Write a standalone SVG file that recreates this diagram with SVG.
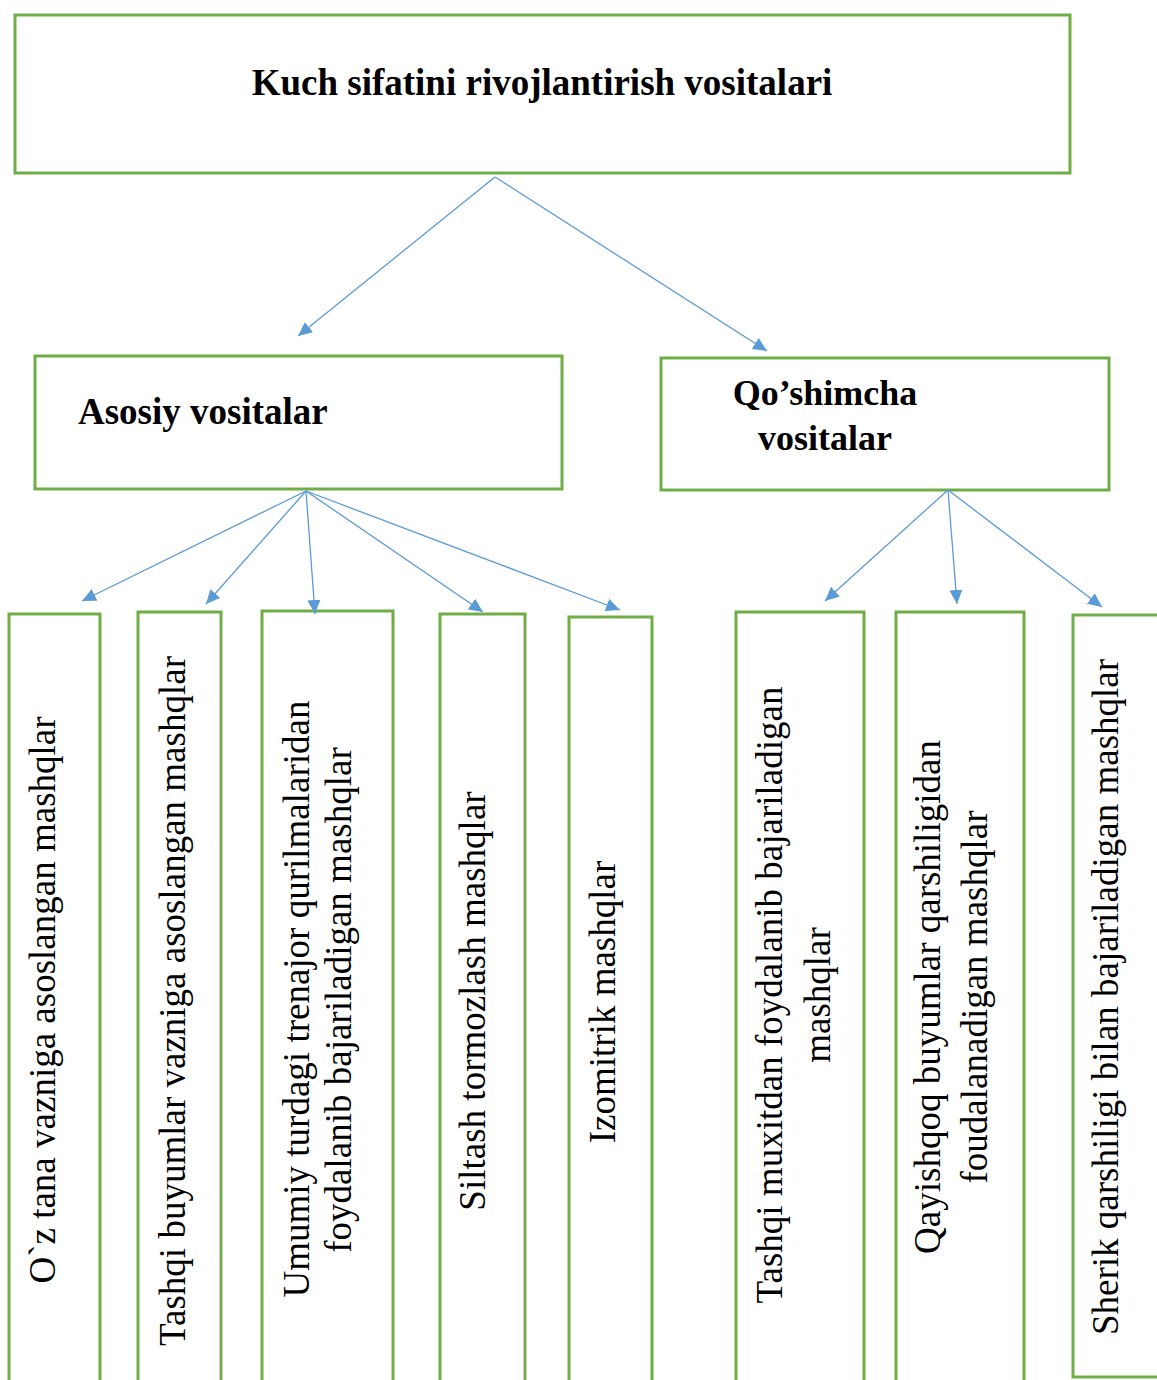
<svg xmlns="http://www.w3.org/2000/svg" width="1157" height="1380" viewBox="0 0 1157 1380">
<style>
  .box{fill:#FFFFFF;stroke:#70AD47;stroke-width:3}
  .hd{font-family:"Liberation Serif","Times New Roman",serif;font-weight:bold;fill:#000}
  .vt{font-family:"Liberation Serif","Times New Roman",serif;font-size:37px;fill:#000;text-anchor:middle}
  .conn line{stroke:#5B9BD5;stroke-width:1.3;fill:none}
</style>
<defs>
  <marker id="ah" markerUnits="userSpaceOnUse" markerWidth="16" markerHeight="14" refX="14" refY="6.5" orient="auto">
    <path d="M0,0 L14,6.5 L0,13 Z" fill="#5B9BD5"/>
  </marker>
</defs>
<rect width="1157" height="1380" fill="#FFFFFF"/>

<g id="n-root">
  <rect class="box" x="15" y="15" width="1055" height="158"/>
  <text class="hd" x="542" y="95" font-size="37" text-anchor="middle">Kuch sifatini rivojlantirish vositalari</text>
</g>
<g id="n-asosiy">
  <rect class="box" x="35" y="356" width="527" height="133"/>
  <text class="hd" x="78" y="424" font-size="37">Asosiy vositalar</text>
</g>
<g id="n-qoshimcha">
  <rect class="box" x="661" y="358" width="448" height="132"/>
  <text class="hd" x="825" y="405" font-size="36" text-anchor="middle">Qo’shimcha</text>
  <text class="hd" x="825" y="450" font-size="36" text-anchor="middle">vositalar</text>
</g>

<g id="n-b1">
  <rect class="box" x="9" y="614" width="91" height="790"/>
  <text class="vt" transform="translate(55,1000) rotate(-90)">O`z tana vazniga asoslangan mashqlar</text>
</g>
<g id="n-b2">
  <rect class="box" x="138" y="612" width="83" height="790"/>
  <text class="vt" transform="translate(185,1001) rotate(-90)">Tashqi buyumlar vazniga asoslangan mashqlar</text>
</g>
<g id="n-b3">
  <rect class="box" x="262" y="611" width="131" height="790"/>
  <text class="vt" transform="translate(309,999) rotate(-90)">Umumiy turdagi trenajor qurilmalaridan</text>
  <text class="vt" transform="translate(351,1000) rotate(-90)">foydalanib bajariladigan mashqlar</text>
</g>
<g id="n-b4">
  <rect class="box" x="440" y="614" width="85" height="790"/>
  <text class="vt" transform="translate(485,1001) rotate(-90)">Siltash tormozlash mashqlar</text>
</g>
<g id="n-b5">
  <rect class="box" x="569" y="617" width="83" height="790"/>
  <text class="vt" transform="translate(615,1002) rotate(-90)">Izomitrik mashqlar</text>
</g>
<g id="n-b6">
  <rect class="box" x="736" y="612" width="128" height="790"/>
  <text class="vt" transform="translate(782,995) rotate(-90)">Tashqi muxitdan foydalanib bajariladigan</text>
  <text class="vt" transform="translate(830,995) rotate(-90)">mashqlar</text>
</g>
<g id="n-b7">
  <rect class="box" x="896" y="612" width="128" height="790"/>
  <text class="vt" transform="translate(940,997) rotate(-90)">Qayishqoq buyumlar qarshiligidan</text>
  <text class="vt" transform="translate(987,997) rotate(-90)">foudalanadigan mashqlar</text>
</g>
<g id="n-b8">
  <rect class="box" x="1073" y="615" width="100" height="762"/>
  <text class="vt" transform="translate(1118,997) rotate(-90)">Sherik qarshiligi bilan bajariladigan mashqlar</text>
</g>

<g id="connectors" class="conn">
  <line x1="495" y1="177" x2="298" y2="336" marker-end="url(#ah)"/>
  <line x1="495" y1="177" x2="767" y2="351" marker-end="url(#ah)"/>
  <line x1="306" y1="491" x2="82" y2="601" marker-end="url(#ah)"/>
  <line x1="306" y1="491" x2="206" y2="604" marker-end="url(#ah)"/>
  <line x1="306" y1="491" x2="315" y2="614" marker-end="url(#ah)"/>
  <line x1="306" y1="491" x2="483" y2="612" marker-end="url(#ah)"/>
  <line x1="306" y1="491" x2="620" y2="610" marker-end="url(#ah)"/>
  <line x1="948" y1="490" x2="825" y2="601" marker-end="url(#ah)"/>
  <line x1="948" y1="490" x2="957" y2="604" marker-end="url(#ah)"/>
  <line x1="948" y1="490" x2="1102" y2="607" marker-end="url(#ah)"/>
</g>
</svg>
